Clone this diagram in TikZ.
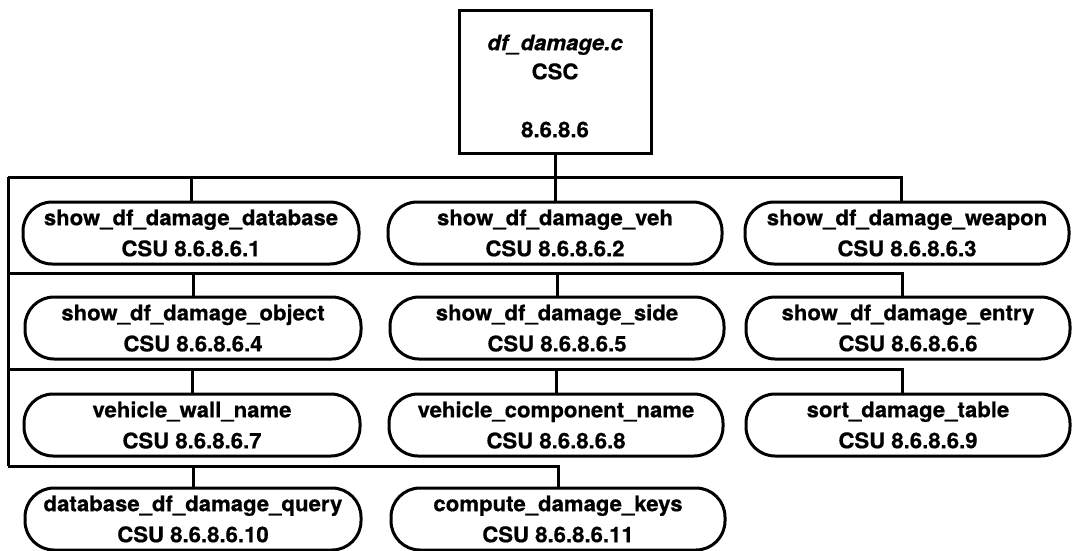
\documentclass[tikz,border=0pt]{standalone}
\usepackage{fontspec}
\setmainfont{TeX Gyre Heros}[FakeStretch=1.03,FakeBold=0.6]
\begin{document}
\begin{tikzpicture}[x=1pt,y=1pt,line width=3pt,
  csu/.style={draw, rounded corners=29pt, minimum height=62pt, align=center,
    font=\fontsize{21.5}{31}\selectfont\bfseries, inner sep=0pt},
  c1/.style={csu, minimum width=336pt},
  c2/.style={csu, minimum width=334pt},
  c3/.style={csu, minimum width=324pt},
  cscbox/.style={draw, minimum width=192pt, minimum height=143pt, align=center,
    font=\fontsize{21.5}{29}\selectfont\bfseries, inner sep=0pt}]
\useasboundingbox (0,0) rectangle (1072,-550);
\node[cscbox] (csc) at (555,-81.5) {};
\node[align=center, font=\fontsize{21.5}{29}\selectfont\bfseries, inner sep=0pt] (csct) at (555,-86) {{\itshape df\_damage.c}\\CSC\\\strut\\8.6.8.6};

\node[c1] (n1) at (191,-233) {show\_df\_damage\_database\\CSU 8.6.8.6.1};
\node[c2] (n2) at (555,-233) {show\_df\_damage\_veh\\CSU 8.6.8.6.2};
\node[c3] (n3) at (907,-233) {show\_df\_damage\_weapon\\CSU 8.6.8.6.3};

\node[c1] (n4) at (193,-328) {show\_df\_damage\_object\\CSU 8.6.8.6.4};
\node[c2] (n5) at (557,-328) {show\_df\_damage\_side\\CSU 8.6.8.6.5};
\node[c3] (n6) at (908,-328) {show\_df\_damage\_entry\\CSU 8.6.8.6.6};

\node[c1] (n7) at (192,-425) {vehicle\_wall\_name\\CSU 8.6.8.6.7};
\node[c2] (n8) at (556,-425) {vehicle\_component\_name\\CSU 8.6.8.6.8};
\node[c3] (n9) at (908,-425) {sort\_damage\_table\\CSU 8.6.8.6.9};

\node[c1] (n10) at (193,-519) {database\_df\_damage\_query\\CSU 8.6.8.6.10};
\node[c2] (n11) at (558,-519) {compute\_damage\_keys\\CSU 8.6.8.6.11};

\coordinate (b1) at (8,-177);
\coordinate (b2) at (8,-273);
\coordinate (b3) at (8,-369);
\coordinate (b4) at (8,-466);

\draw (csc.south) -- (csc.south |- b1);
\draw (b1) -- (b4);
\draw (b1) -- ([xshift=-6pt]n3.north |- b1) -- ([xshift=-6pt]n3.north);
\draw (n1.north) -- (n1.north |- b1);
\draw (n2.north) -- (n2.north |- b1);

\draw (b2) -- ([xshift=-6pt]n6.north |- b2) -- ([xshift=-6pt]n6.north);
\draw (n4.north) -- (n4.north |- b2);
\draw (n5.north) -- (n5.north |- b2);

\draw (b3) -- ([xshift=-6pt]n9.north |- b3) -- ([xshift=-6pt]n9.north);
\draw (n7.north) -- (n7.north |- b3);
\draw (n8.north) -- (n8.north |- b3);

\draw (b4) -- (n11.north |- b4) -- (n11.north);
\draw (n10.north) -- (n10.north |- b4);
\end{tikzpicture}
\end{document}
